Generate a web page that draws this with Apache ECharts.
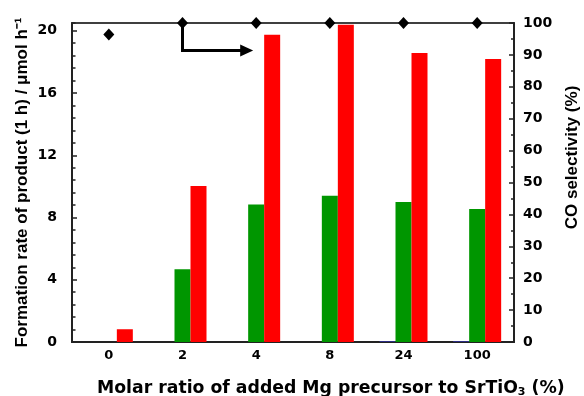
<!DOCTYPE html>
<html>
<head>
<meta charset="utf-8">
<style>
  html, body { margin: 0; padding: 0; background: #fff; }
  #chart { width: 584px; height: 396px; }
</style>
<script src="https://cdn.jsdelivr.net/npm/echarts@6/dist/echarts.min.js"></script>
</head>
<body>
<div id="chart"></div>
<script>
// Mg 前驱体比例
const categories = ["0", "2", "4", "8", "24", "100"];
// 生成速率 (μmol h-1)
const blueValues = [0, 0, 0, 0, 0.05, 0.05];
const greenValues = [0, 4.67, 8.84, 9.4, 8.99, 8.54];
const redValues = [0.82, 10.02, 19.74, 20.38, 18.57, 18.18];
// CO 选择性 (%)
const selectivity = [96.4, 100, 100, 100, 100, 100];
// 箭头: [起点类目, 起点值, 拐点值, 终点类目]
const arrowData = [[1, 100, 91.4, 2]];

const FONT = "'Liberation Sans', Arial, sans-serif";
const WIDE = "'DejaVu Sans', sans-serif";

const chart = echarts.init(document.getElementById("chart"));

const option = {
  backgroundColor: "#fff",
  animation: false,
  title: {
    text: "Molar ratio of added Mg precursor to SrTiO{sub|3} (%)",
    left: 97,
    top: 379,
    padding: 0,
    textStyle: {
      fontFamily: WIDE,
      fontWeight: "bold",
      fontSize: 17.3,
      color: "#000",
      rich: {
        sub: {
          fontFamily: WIDE,
          fontWeight: "bold",
          fontSize: 11,
          color: "#000",
          verticalAlign: "bottom",
          padding: [8, 0, 0, 0]
        }
      }
    }
  },
  grid: {
    left: 72,
    right: 70,
    top: 23,
    bottom: 54,
    outerBoundsMode: "none",
    show: true,
    borderColor: "#000",
    borderWidth: 1.5,
    backgroundColor: "transparent"
  },
  xAxis: {
    type: "category",
    data: categories,
    axisTick: { show: false },
    axisLine: { lineStyle: { color: "#222", width: 2 } },
    axisLabel: {
      color: "#000",
      fontFamily: WIDE,
      fontWeight: "bold",
      fontSize: 13,
      margin: 7
    },
    splitLine: { show: false }
  },
  yAxis: [
    {
      type: "value",
      min: 0,
      max: 20.5,
      interval: 4,
      position: "left",
      name: "Formation rate of product (1 h) / μmol h⁻¹",
      nameLocation: "middle",
      nameGap: 41,
      nameMoveOverlap: false,
      nameRotate: 90,
      nameTextStyle: {
        fontFamily: FONT,
        fontWeight: "bold",
        fontSize: 17,
        color: "#000"
      },
      axisLine: { show: true, lineStyle: { color: "#222", width: 2 } },
      axisTick: { show: true, inside: true, length: 5, lineStyle: { color: "#222", width: 1.5 } },
      axisLabel: {
        color: "#000",
        fontFamily: WIDE,
        fontWeight: "bold",
        fontSize: 14,
        margin: 15,
        showMaxLabel: false
      },
      splitLine: { show: false }
    },
    {
      // 次刻度
      type: "value",
      min: 0,
      max: 20.5,
      interval: 0.8,
      position: "left",
      axisLine: { show: false },
      axisTick: { show: true, inside: true, length: 3.5, lineStyle: { color: "#222", width: 1.5 } },
      axisLabel: { show: false },
      splitLine: { show: false }
    },
    {
      type: "value",
      min: 0,
      max: 100,
      interval: 10,
      position: "right",
      name: "CO selectivity (%)",
      nameLocation: "middle",
      nameGap: 50,
      nameRotate: 90,
      nameTextStyle: {
        fontFamily: FONT,
        fontWeight: "bold",
        fontSize: 17,
        color: "#000",
        padding: [0, 0, 0, 50]
      },
      axisLine: { show: true, lineStyle: { color: "#222", width: 2 } },
      axisTick: { show: true, inside: true, length: 5, lineStyle: { color: "#222", width: 1.5 } },
      minorTick: { show: true, splitNumber: 2, length: 3, lineStyle: { color: "#222", width: 1.5 } },
      axisLabel: {
        color: "#000",
        fontFamily: WIDE,
        fontWeight: "bold",
        fontSize: 14,
        margin: 9
      },
      splitLine: { show: false }
    }
  ],
  series: [
    {
      name: "blue",
      type: "bar",
      yAxisIndex: 0,
      barWidth: 16,
      barGap: "0%",
      itemStyle: { color: "#3030a0" },
      data: blueValues
    },
    {
      name: "green",
      type: "bar",
      yAxisIndex: 0,
      barWidth: 16,
      barGap: "0%",
      itemStyle: { color: "#009600" },
      data: greenValues
    },
    {
      name: "red",
      type: "bar",
      yAxisIndex: 0,
      barWidth: 16,
      barGap: "0%",
      itemStyle: { color: "#ff0000" },
      data: redValues
    },
    {
      name: "arrow",
      type: "custom",
      yAxisIndex: 2,
      z: 3,
      data: arrowData,
      encode: { x: 0, y: 1 },
      renderItem: function (params, api) {
        const p0 = api.coord([api.value(0), api.value(1)]);
        const p1 = api.coord([api.value(0), api.value(2)]);
        const p2 = api.coord([api.value(3), api.value(2)]);
        const tipX = p2[0] - 3;
        const y = p1[1];
        return {
          type: "group",
          children: [
            {
              type: "polyline",
              shape: { points: [p0, [p0[0], y], [tipX - 10, y]] },
              style: { stroke: "#000", lineWidth: 3, fill: null }
            },
            {
              type: "polygon",
              shape: { points: [[tipX, y], [tipX - 13, y - 6], [tipX - 13, y + 6]] },
              style: { fill: "#000" }
            }
          ]
        };
      }
    },
    {
      name: "selectivity",
      type: "scatter",
      yAxisIndex: 2,
      symbol: "diamond",
      symbolSize: [11, 12],
      clip: false,
      z: 4,
      itemStyle: { color: "#000", opacity: 1 },
      data: selectivity
    }
  ]
};

chart.setOption(option);
window.addEventListener("resize", () => chart.resize());
</script>
</body>
</html>
